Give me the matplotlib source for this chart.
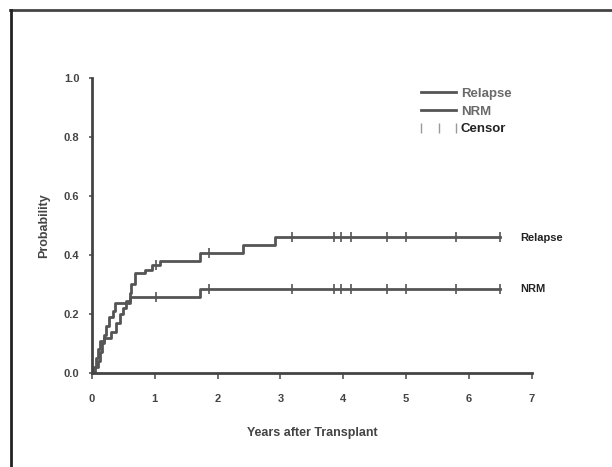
import numpy as np
import matplotlib
matplotlib.use("Agg")
import matplotlib.pyplot as plt
from matplotlib.lines import Line2D

plt.rcParams['font.family'] = ['Liberation Sans', 'DejaVu Sans']

# Cumulative incidence step functions (time in years, probability)
relapse_t = [0.0, 0.05, 0.10, 0.13, 0.17, 0.20, 0.30, 0.38, 0.45, 0.50, 0.55,
             0.60, 0.63, 0.68, 0.84, 0.95, 1.08, 1.72, 2.41, 2.91]
relapse_p = [0.0, 0.02, 0.04, 0.07, 0.10, 0.12, 0.14, 0.17, 0.20, 0.22, 0.245,
             0.27, 0.30, 0.34, 0.35, 0.365, 0.38, 0.405, 0.435, 0.462]

nrm_t = [0.0, 0.03, 0.06, 0.10, 0.13, 0.20, 0.23, 0.27, 0.33, 0.37, 0.60, 1.72]
nrm_p = [0.0, 0.02, 0.05, 0.08, 0.11, 0.13, 0.16, 0.19, 0.21, 0.236, 0.259, 0.285]

follow_up_end = 6.49

# Censored observation times
relapse_censor = [1.02, 1.86, 3.18, 3.86, 3.97, 4.13, 4.69, 5.00, 5.80, 6.49]
nrm_censor = [1.02, 1.86, 3.18, 3.86, 3.97, 4.13, 4.69, 5.00, 5.80, 6.49]

x_ticks = [0, 1, 2, 3, 4, 5, 6, 7]
y_ticks = [0.0, 0.2, 0.4, 0.6, 0.8, 1.0]
y_tick_labels = ["0.0", "0.2", "0.4", "0.6", "0.8", "1.0"]

line_color = "#555555"
text_color = "#444444"

fig = plt.figure(figsize=(6.12, 4.67), dpi=100)
ax = fig.add_axes([0.150, 0.2013, 0.719, 0.632])


def step_value(ts, ps, t):
    i = np.searchsorted(ts, t, side="right") - 1
    return ps[i]


for ts, ps, cens in [(relapse_t, relapse_p, relapse_censor),
                     (nrm_t, nrm_p, nrm_censor)]:
    xs = list(ts) + [follow_up_end]
    ys = list(ps) + [ps[-1]]
    ax.step(xs, ys, where="post", color=line_color, lw=2.0)
    cy = [step_value(ts, ps, c) for c in cens]
    ax.plot(cens, cy, linestyle="none", marker="|", markersize=7,
            markeredgewidth=1.2, color=line_color)

ax.text(6.82, relapse_p[-1] - 0.005, "Relapse", fontsize=8, fontweight="bold",
        color="#222222", va="center", ha="left")
ax.text(6.82, nrm_p[-1], "NRM", fontsize=8, fontweight="bold",
        color="#222222", va="center", ha="left")

ax.set_xlim(0, 7)
ax.set_ylim(0, 1.0)
ax.spines["top"].set_visible(False)
ax.spines["right"].set_visible(False)
for s in ("left", "bottom"):
    ax.spines[s].set_color("#444444")
    ax.spines[s].set_linewidth(2.0)
ax.set_xticks(x_ticks)
ax.set_xticklabels([str(v) for v in x_ticks])
ax.set_yticks(y_ticks)
ax.set_yticklabels(y_tick_labels)
ax.tick_params(axis="both", labelsize=8, colors="#555555", labelcolor=text_color,
               length=4, width=1.2)
ax.tick_params(axis="x", pad=11)
ax.tick_params(axis="y", length=2, pad=7)
for lbl in ax.get_xticklabels() + ax.get_yticklabels():
    lbl.set_fontweight("bold")

ax.set_xlabel("Years after Transplant", fontsize=9, fontweight="bold",
              color=text_color, labelpad=17)
ax.set_ylabel("Probability", fontsize=9, fontweight="bold",
              color=text_color, labelpad=10)

handles = [
    Line2D([], [], color=line_color, lw=2.0),
    Line2D([], [], color=line_color, lw=2.0),
    Line2D([], [], color="#999999", linestyle="none", marker="|",
           markersize=7, markeredgewidth=1.0),
]
leg = ax.legend(handles, ["Relapse", "NRM", "Censor"], loc="upper left",
                bbox_to_anchor=(0.728, 0.985), frameon=False, fontsize=9.5,
                handlelength=3.2, handletextpad=0.1, labelspacing=0.42,
                numpoints=3, borderaxespad=0.0)
for t, c in zip(leg.get_texts(), ["#6a6a6a", "#6a6a6a", "#222222"]):
    t.set_color(c)
    t.set_fontweight("bold")

# Partial frame along the top and left edges
fig.add_artist(Line2D([10 / 612, 1.0], [1 - 9.5 / 467, 1 - 9.5 / 467],
                      transform=fig.transFigure, color="#444444", lw=2.0))
fig.add_artist(Line2D([10.5 / 612, 10.5 / 612], [0.0, 1 - 9.5 / 467],
                      transform=fig.transFigure, color="#222222", lw=2.0))

fig.savefig("out.png", dpi=100)
